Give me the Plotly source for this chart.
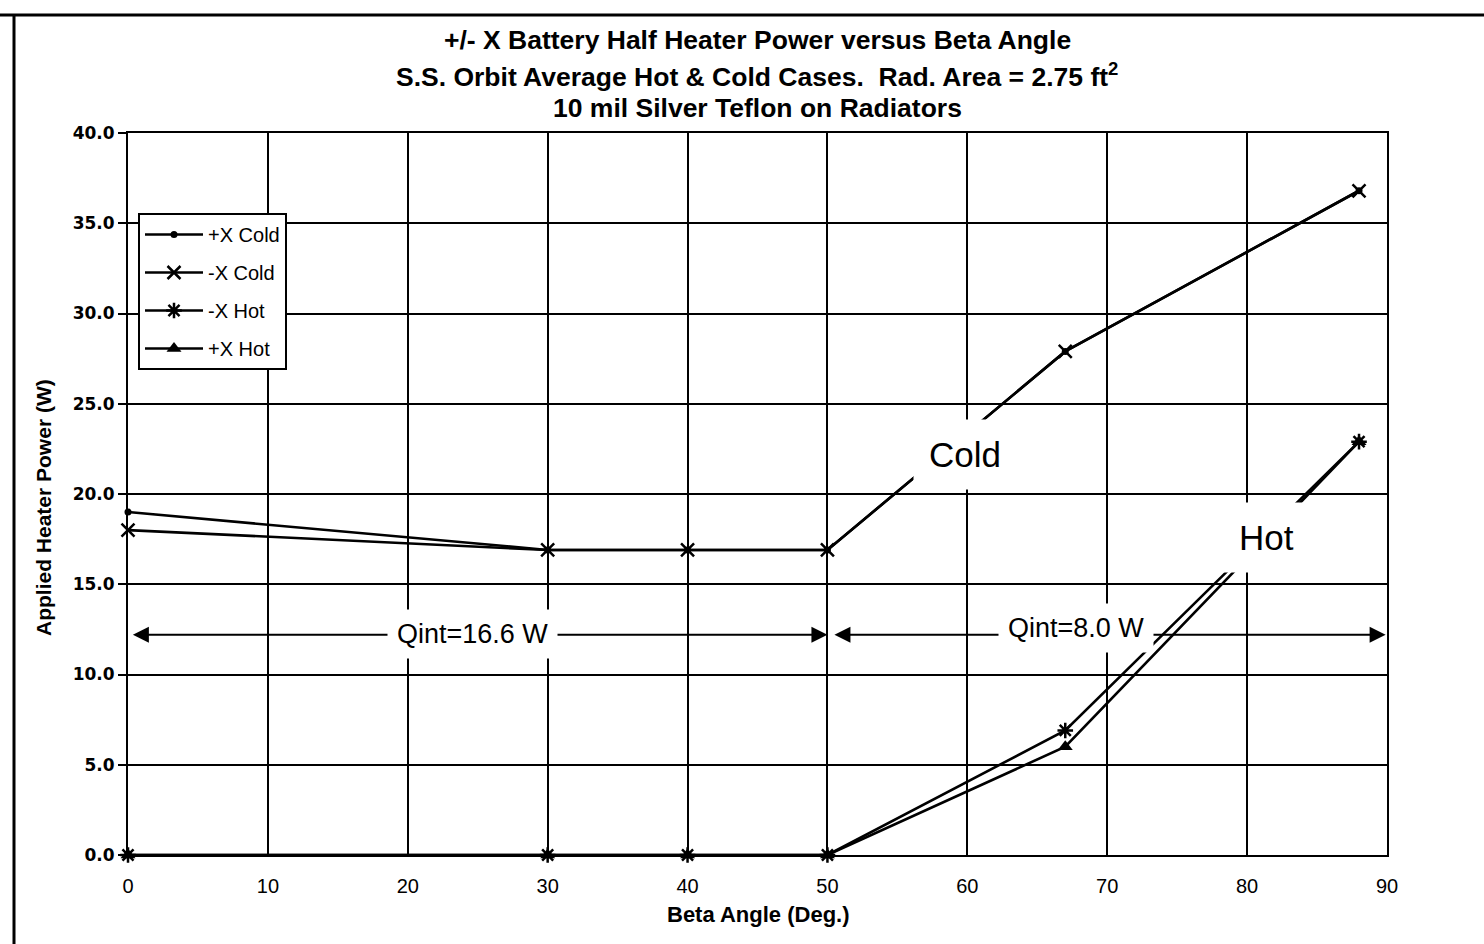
import plotly.graph_objects as go

# ---------------- data ----------------
beta = [0, 30, 40, 50, 67, 88]
px_cold = [19.0, 16.9, 16.9, 16.9, 27.9, 36.8]
mx_cold = [18.0, 16.9, 16.9, 16.9, 27.9, 36.8]
mx_hot = [0.0, 0.0, 0.0, 0.0, 6.9, 22.9]
px_hot = [0.0, 0.0, 0.0, 0.0, 6.0, 22.9]

series_names = ["+X Cold", "-X Cold", "-X Hot", "+X Hot"]
x_ticks = [0, 10, 20, 30, 40, 50, 60, 70, 80, 90]
y_ticks = [0, 5, 10, 15, 20, 25, 30, 35, 40]

title_lines = [
    "+/- X Battery Half Heater Power versus Beta Angle",
    "S.S. Orbit Average Hot &amp; Cold Cases.  Rad. Area = 2.75 ft<sup>2</sup>",
    "10 mil Silver Teflon on Radiators",
]
x_title = "Beta Angle (Deg.)"
y_title = "Applied Heater Power (W)"

# ---------------- layout constants ----------------
W, H = 1484, 944
L, R, T, B = 128, 97, 133, 89
PW, PH = W - L - R, H - T - B

def xp(px):
    return (px - L) / PW

def yp(py):
    return (H - B - py) / PH

ARIAL = "Liberation Sans, Arial"

fig = go.Figure()

styles = [
    dict(symbol="circle", size=7, line=dict(width=0)),
    dict(symbol="x-thin-open", size=13, line=dict(width=2.5, color="black")),
    dict(symbol="asterisk-open", size=13, line=dict(width=2.5, color="black")),
    dict(symbol="triangle-up", size=13, line=dict(width=0)),
]
ys = [px_cold, mx_cold, mx_hot, px_hot]
for name, y, st in zip(series_names, ys, styles):
    fig.add_trace(go.Scatter(
        x=beta, y=y, name=name, mode="lines+markers",
        line=dict(color="black", width=2.6),
        marker=dict(color="black", **st),
        cliponaxis=False, legendgroup=name,
    ))

annotations = []
# title lines
for txt, py in zip(title_lines, [40, 75, 108]):
    annotations.append(dict(
        text="<b>" + txt + "</b>", xref="paper", yref="paper",
        x=xp(757), y=yp(py), showarrow=False, xanchor="center", yanchor="middle",
        font=dict(family=ARIAL, size=26.5, color="black")))
# axis titles
annotations.append(dict(text="<b>" + x_title + "</b>", xref="paper", yref="paper",
                        x=xp(758), y=yp(914), showarrow=False,
                        xanchor="center", yanchor="middle",
                        font=dict(family=ARIAL, size=22, color="black")))
annotations.append(dict(text="<b>" + y_title + "</b>", xref="paper", yref="paper",
                        x=xp(43), y=yp(508), showarrow=False, textangle=-90,
                        xanchor="center", yanchor="middle",
                        font=dict(family=ARIAL, size=21, color="black")))

# double arrows (Qint)
arrow_y = 12.2
for (x0, x1, xt, yt, label) in [(0.35, 50.0, 24.6, 12.25, "Qint=16.6 W"),
                                 (50.5, 89.9, 67.8, 12.6, "Qint=8.0 W")]:
    for tip in (x0, x1):
        annotations.append(dict(
            x=tip, y=arrow_y, ax=xt, ay=arrow_y, xref="x", yref="y",
            axref="x", ayref="y", text="", showarrow=True,
            arrowhead=2, arrowsize=1.6, arrowwidth=2, arrowcolor="black"))
    annotations.append(dict(
        x=xt, y=yt, xref="x", yref="y", text=label, showarrow=False,
        xanchor="center", yanchor="middle",
        bgcolor="white", borderpad=9,
        font=dict(family=ARIAL, size=27, color="black")))

# Cold / Hot labels
annotations.append(dict(x=59.8, y=22.2, xref="x", yref="y", text="Cold",
                        showarrow=False, bgcolor="white", borderpad=15,
                        xanchor="center", yanchor="middle",
                        font=dict(family=ARIAL, size=35, color="black")))
annotations.append(dict(x=81.4, y=17.6, xref="x", yref="y", text="Hot",
                        showarrow=False, bgcolor="white", borderpad=15,
                        xanchor="center", yanchor="middle",
                        font=dict(family=ARIAL, size=35, color="black")))

shapes = [
    dict(type="line", xref="paper", yref="paper", x0=xp(0), x1=xp(W), y0=yp(15), y1=yp(15),
         line=dict(color="black", width=3)),
    dict(type="line", xref="paper", yref="paper", x0=xp(14), x1=xp(14), y0=yp(15), y1=yp(H),
         line=dict(color="black", width=3)),
]

fig.update_layout(
    width=W, height=H,
    margin=dict(l=L, r=R, t=T, b=B, autoexpand=False),
    paper_bgcolor="white", plot_bgcolor="white",
    showlegend=True,
    legend=dict(x=xp(138), y=yp(213), xanchor="left", yanchor="top",
                bgcolor="white", bordercolor="black", borderwidth=2,
                font=dict(family=ARIAL, size=20, color="black"),
                tracegroupgap=9, itemwidth=58),
    annotations=annotations,
    shapes=shapes,
)
fig.update_xaxes(range=[0, 90], tickvals=x_ticks, ticktext=[str(v) for v in x_ticks],
                 showgrid=True, gridcolor="black", gridwidth=2,
                 showline=True, linecolor="black", linewidth=2, mirror=True,
                 ticks="outside", ticklen=12, tickcolor="rgba(0,0,0,0)", zeroline=False,
                 tickfont=dict(family=ARIAL, size=20, color="black"))
fig.update_yaxes(range=[0, 40], tickvals=y_ticks, tickformat=".1f",
                 showgrid=True, gridcolor="black", gridwidth=2,
                 showline=True, linecolor="black", linewidth=2, mirror=True,
                 ticks="outside", ticklen=8, tickwidth=2, tickcolor="black", zeroline=False,
                 tickfont=dict(family="DejaVu Sans", size=17, color="black", weight="bold"))

fig.write_html("out.html")
